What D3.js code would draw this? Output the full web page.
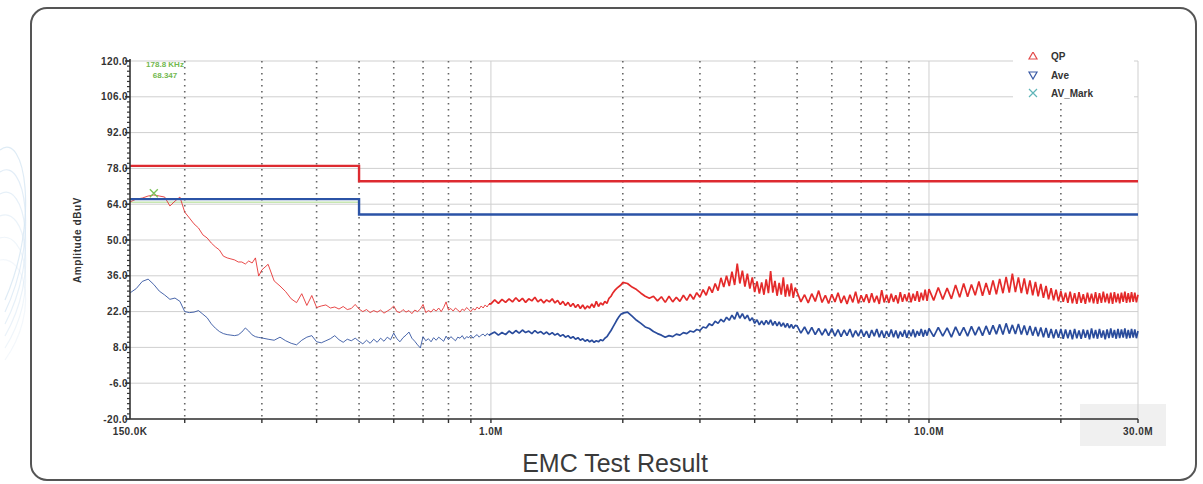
<!DOCTYPE html>
<html lang="en">
<head>
<meta charset="UTF-8">
<title>EMC Test Result</title>
<script src="https://cdn.jsdelivr.net/npm/d3@7"></script>
<style>
    body { margin: 0; background: #fff; }
    svg text { font-family: "Liberation Sans", Arial, sans-serif; }
</style>
</head>
<body>
<div id="fig"></div>
<script>
    // receiver sweep plan: [start MHz, stop MHz, step MHz]
    const sweepSteps = [[0.15, 0.30, 0.005], [0.31, 0.99, 0.01], [1.0, 1.98, 0.02],
                        [2.0, 4.95, 0.05], [5.0, 9.9, 0.1], [10.0, 30.0, 0.25]]

    // QP trace, dBuV, one array per sweep band
    const qp150k = [64.9,66.0,66.4,67.2,67.6,67.2,66.8,63.3,65.2,66.8,60.9,58.6,56.3,54.7,52.0,50.8,48.8,47.3,46.1,43.7,
        43.0,42.6,42.2,41.4,41.4,40.6,41.8,41.0,43.0,35.9,38.3]
    const qp310k = [40.5,34.0,32.0,29.8,27.0,25.5,29.0,24.4,28.3,23.6,24.2,24.6,23.4,23.8,23.0,24.0,22.8,23.2,24.8,23.0,
        22.0,22.8,21.6,22.4,21.8,22.6,21.4,22.2,23.0,24.2, 22.0,21.6,22.8,21.8,22.4,21.2,22.6,22.0,23.0,24.8,
        21.6,22.4,21.8,23.0,22.2,23.4,22.0,23.6,25.8,22.6, 23.2,22.2,23.4,22.6,21.8,23.0,22.4,23.6,22.8,22.0,
        23.2,22.6,23.8,23.0,24.2,23.4,24.6,23.8,25.0]
    const qp1M = [25.0,26.6,25.2,26.8,25.6,27.0,25.8,27.4,26.0,27.2, 25.6,27.0,26.2,27.6,25.8,26.8,25.4,26.6,25.8,27.0,
        25.4,26.4,24.8,26.0,24.4,25.6,24.0,25.2,23.6,24.8, 23.2,24.6,23.0,24.2,23.4,25.0,23.6,26.0,24.0,25.4,
        24.6,26.0,25.2,27.2,28.0,29.4,30.4,31.2,31.8,32.4]
    const qp2M = [33.4,33.0,31.6,30.6,29.2,28.0,27.2,28.0,26.2,27.8, 25.6,28.0,25.8,27.6,26.0,28.4,26.4,28.8,26.8,29.4,
        27.6,30.6,28.4,31.8,29.4,33.0,30.2,35.2,31.6,36.0, 32.0,37.6,32.4,40.8,33.0,38.0,31.8,36.8,31.0,35.4,
        29.6,33.8,29.0,33.4,28.6,34.6,29.2,37.8,29.4,34.0, 28.2,33.2,28.6,35.4,27.8,32.6,28.0,33.0,27.4,31.4]
    const qp5M = [29.6,25.8,28.6,25.4,29.0,26.0,30.2,25.6,28.4,25.2, 28.8,25.8,29.4,25.4,28.2,25.0,28.6,25.6,29.8,25.2,
        28.4,25.8,28.8,25.4,29.2,25.6,28.2,25.0,30.4,25.6, 28.6,25.4,29.0,25.8,28.4,25.2,29.6,25.8,28.8,26.0,
        29.4,25.6,29.0,26.2,30.0,25.8,29.4,26.4,30.6,26.2]
    const qp10M = [30.8,26.4,31.4,26.8,31.2,27.0,32.4,27.6,33.0,27.8, 32.6,28.4,33.8,28.2,33.2,28.6,34.2,28.8,34.8,29.2,
        35.6,29.4,36.8,29.6,35.4,29.2,35.0,28.8,34.2,28.4, 33.6,28.0,32.8,27.4,32.0,26.8,31.2,26.4,30.6,26.0,
        30.0,25.8,29.4,25.4,29.8,25.2,29.2,25.0,29.6,25.4, 28.8,25.0,29.4,25.6,29.0,25.2,29.6,25.0,29.2,25.4,
        29.8,25.6,29.0,25.2,29.4,25.0,29.6,25.6,29.0,25.2, 29.4,25.8,29.8,25.4,29.2,25.6,29.6,25.8,29.4,25.6, 28.6]

    // Average trace, dBuV
    const av150k = [29.3,31.0,33.8,34.7,32.6,30.0,28.5,26.8,27.3,26.0,22.0,21.6,21.8,22.4,21.0,19.6,17.2,15.5,14.2,13.4,
        13.0,12.8,12.6,12.9,14.0,15.6,14.4,12.9,12.2,11.9,11.7]
    const av310k = [11.2,10.8,12.0,10.6,9.6,9.0,10.8,12.0,12.6,10.2,9.8,10.6,11.4,12.6,11.0,10.0,11.2,10.6,11.6,10.4,
        9.4,10.8,9.6,11.2,10.0,11.6,10.4,12.0,11.0,13.6, 11.4,10.2,11.8,12.8,14.0,11.6,10.4,9.0,7.8,12.2,
        10.6,11.4,10.2,11.8,10.8,12.0,11.2,10.4,12.4,11.0, 12.2,11.4,10.6,12.0,11.6,12.6,11.2,12.2,11.8,12.8,
        11.6,12.4,13.0,12.0,12.8,13.2,12.4,13.4,12.8]
    const av1M = [13.2,14.0,12.8,13.8,13.0,14.4,13.4,14.6,13.6,14.8, 13.8,14.4,13.4,14.6,13.6,14.2,13.2,14.0,13.0,13.8,
        12.8,13.4,12.4,13.0,12.0,12.6,11.6,12.2,11.2,11.8, 10.8,11.4,10.4,11.0,10.2,10.8,10.0,10.6,10.2,11.0,
        10.6,11.6,12.2,13.4,14.6,16.0,17.4,18.8,20.0,21.0]
    const av2M = [21.4,21.8,20.2,18.6,17.4,16.0,15.4,14.2,13.4,12.8, 12.0,12.6,12.2,13.2,12.8,13.8,13.4,14.4,14.0,15.0,
        14.6,16.0,15.6,17.2,16.6,18.2,17.4,19.0,18.0,19.8, 18.6,20.6,19.0,21.8,19.4,21.2,19.2,20.6,18.4,19.6,
        17.4,18.8,16.8,18.4,16.8,18.6,17.0,18.8,16.6,18.2, 16.4,18.0,16.2,17.6,15.8,17.4,15.6,17.0,15.4,16.6]
    const av5M = [16.4,13.6,16.0,13.2,15.8,13.0,15.4,12.8,15.2,12.6, 15.4,12.4,15.0,12.2,14.8,12.6,15.2,12.0,14.6,12.4,
        15.0,12.2,14.4,11.8,14.8,12.4,15.2,12.0,14.6,11.8, 14.4,12.2,15.0,12.0,14.6,11.6,14.2,12.2,14.8,11.8,
        14.6,12.4,15.0,12.0,14.4,12.6,15.2,12.2,14.8,12.6]
    const av10M = [15.4,12.2,15.8,12.4,15.6,12.0,16.0,12.6,15.8,12.4, 16.2,12.8,16.0,12.6,16.4,13.0,16.6,13.2,17.0,13.0,
        17.4,13.4,16.8,13.2,17.2,13.0,16.6,12.8,16.4,12.6, 16.0,12.4,15.8,12.0,15.6,11.8,15.2,11.6,15.0,11.8,
        15.2,11.4,15.0,11.6,14.8,11.2,15.2,11.6,14.6,11.4, 15.0,11.8,14.8,11.2,15.4,11.6,14.8,11.4,15.2,11.8,
        14.6,11.2,15.0,11.6,15.4,11.8,14.8,11.4,15.2,11.6, 15.0,11.8,15.4,11.4,14.8,11.6,15.2,11.8,15.0,11.6, 14.4]

    // class A limits [MHz, dBuV]
    const qpLimit = [[0.15, 79], [0.5, 79], [0.5, 73], [30, 73]]
    const avLimit = [[0.15, 66], [0.5, 66], [0.5, 60], [30, 60]]
    const markLine = [[0.15, 64.8], [0.5, 64.8]]
    const marker = {f: 0.17, v: 68.3, label: ["178.8 KHz", "68.347"]}

    const yTicks = [-20, -6, 8, 22, 36, 50, 64, 78, 92, 106, 120]
    const dottedGrid = [0.2, 0.3, 0.4, 0.5, 0.6, 0.7, 0.8, 0.9, 2, 3, 4, 5, 6, 7, 8, 9, 20]
    const solidGrid = [1, 10, 30]
    const xLabelVals = [0.15, 1, 10, 30]
    const xLabels = ["150.0K", "1.0M", "10.0M", "30.0M"]
    const legendNames = ["QP", "Ave", "AV_Mark"]

    function buildTrace(bands) {
        let pts = []
        sweepSteps.forEach((s, b) => {
            bands[b].forEach((v, i) => pts.push([+(s[0] + i * s[2]).toFixed(3), v]))
        })
        return pts
    }
    const qpTrace = buildTrace([qp150k, qp310k, qp1M, qp2M, qp5M, qp10M])
    const avTrace = buildTrace([av150k, av310k, av1M, av2M, av5M, av10M])

    const W = 1203, H = 484
    const plot = {left: 130, right: 1138, top: 61, bottom: 419}

    let svg = d3.select("#fig").append("svg")
        .attr("width", W).attr("height", H)

    // faint background swirls outside the frame
    const deco = svg.append("g").attr("fill", "none").attr("stroke", "#d6e6f3").attr("stroke-width", 1.2)
    d3.range(6).forEach(i => {
        deco.append("path").attr("d", `M0,${150 + i * 22} C25,${130 + i * 25} 40,${220 + i * 18} 5,${300 + i * 12}`)
            .attr("opacity", 0.8 - i * 0.1)
    })

    svg.append("rect")
        .attr("x", 31).attr("y", 8).attr("width", 1165).attr("height", 472)
        .attr("rx", 16).attr("fill", "#fff").attr("stroke", "#555").attr("stroke-width", 2)

    const x = d3.scaleLog().domain([0.15, 30]).range([plot.left, plot.right])
    const y = d3.scaleLinear().domain([-20, 120]).range([plot.bottom, plot.top])

    // grey box behind the last label
    svg.append("rect").attr("x", 1080).attr("y", 404).attr("width", 86).attr("height", 42)
        .attr("fill", "#f0f0f0")

    // horizontal grid
    svg.append("g").selectAll("line").data(yTicks).enter().append("line")
        .attr("x1", plot.left).attr("x2", plot.right)
        .attr("y1", d => y(d)).attr("y2", d => y(d))
        .attr("stroke", "#cfcfcf").attr("stroke-width", 1)

    // legend background cuts grid lines
    svg.append("rect").attr("x", 1013).attr("y", 50).attr("width", 121).attr("height", 52).attr("fill", "#fff")

    svg.append("g").selectAll("line").data(solidGrid).enter().append("line")
        .attr("x1", d => x(d)).attr("x2", d => x(d))
        .attr("y1", plot.top).attr("y2", plot.bottom)
        .attr("stroke", "#cfcfcf").attr("stroke-width", 1)

    svg.append("g").selectAll("line").data(dottedGrid).enter().append("line")
        .attr("x1", d => x(d)).attr("x2", d => x(d))
        .attr("y1", d => d === 20 ? 103 : plot.top).attr("y2", plot.bottom)
        .attr("stroke", "#666").attr("stroke-width", 1.6).attr("stroke-dasharray", "1.6,4.4")

    const line = d3.line().x(d => x(d[0])).y(d => y(d[1]))

    svg.append("path").datum(markLine).attr("d", line)
        .attr("fill", "none").attr("stroke", "#a8d88a").attr("stroke-width", 1)

    // the low band is drawn thin, the dense sweep above 1 MHz heavier
    function drawTrace(pts, color) {
        svg.append("path").datum(pts.filter(d => d[0] <= 1)).attr("d", line)
            .attr("fill", "none").attr("stroke", color).attr("stroke-width", 1).attr("opacity", 0.85)
        svg.append("path").datum(pts.filter(d => d[0] >= 0.99)).attr("d", line)
            .attr("fill", "none").attr("stroke", color).attr("stroke-width", 1.7)
            .attr("stroke-linejoin", "bevel")
    }
    drawTrace(avTrace, "#2a4c9c")
    drawTrace(qpTrace, "#e42a2a")

    svg.append("path").datum(qpLimit).attr("d", line)
        .attr("fill", "none").attr("stroke", "#dd2a30").attr("stroke-width", 2.4)
    svg.append("path").datum(avLimit).attr("d", line)
        .attr("fill", "none").attr("stroke", "#2b53a6").attr("stroke-width", 2.4)

    // marker
    const mx = x(marker.f), my = y(marker.v)
    svg.append("path").attr("d", `M${mx - 4},${my - 4}L${mx + 4},${my + 4}M${mx - 4},${my + 4}L${mx + 4},${my - 4}`)
        .attr("stroke", "#7cc257").attr("stroke-width", 1.3)
    marker.label.forEach((t, i) => {
        svg.append("text").attr("x", 165).attr("y", 67 + i * 11).attr("text-anchor", "middle")
            .attr("font-size", 8).attr("font-weight", "bold").attr("fill", "#72b850").text(t)
    })

    // axes
    const yAxis = svg.append("g")
    yAxis.selectAll(".minor").data(d3.range(-20, 121, 2)).enter().append("line")
        .attr("x1", plot.left - 3).attr("x2", plot.left).attr("y1", d => y(d)).attr("y2", d => y(d))
        .attr("stroke", "#333").attr("stroke-width", 1.2)
    yAxis.selectAll(".major").data(yTicks).enter().append("line")
        .attr("x1", plot.left - 5).attr("x2", plot.left).attr("y1", d => y(d)).attr("y2", d => y(d))
        .attr("stroke", "#333").attr("stroke-width", 1.4)
    yAxis.selectAll("text").data(yTicks).enter().append("text")
        .attr("x", plot.left - 2).attr("y", d => y(d) + 3.5).attr("text-anchor", "end")
        .attr("font-size", 10).attr("font-weight", "bold").attr("letter-spacing", 0.4).attr("fill", "#333")
        .text(d => d.toFixed(1))
    yAxis.append("line").attr("x1", plot.left).attr("x2", plot.left)
        .attr("y1", plot.top - 2).attr("y2", plot.bottom).attr("stroke", "#333").attr("stroke-width", 1.6)

    const xAxis = svg.append("g")
    xAxis.selectAll("line.t").data(dottedGrid.concat(solidGrid)).enter().append("line")
        .attr("x1", d => x(d)).attr("x2", d => x(d)).attr("y1", plot.bottom).attr("y2", plot.bottom + 4)
        .attr("stroke", "#333").attr("stroke-width", 1.4)
    xAxis.append("line").attr("x1", plot.left).attr("x2", plot.right)
        .attr("y1", plot.bottom).attr("y2", plot.bottom).attr("stroke", "#333").attr("stroke-width", 1.6)
    xAxis.selectAll("text").data(xLabelVals).enter().append("text")
        .attr("x", d => x(d)).attr("y", plot.bottom + 16).attr("text-anchor", "middle")
        .attr("font-size", 10).attr("font-weight", "bold").attr("letter-spacing", 0.4).attr("fill", "#333")
        .text((d, i) => xLabels[i])

    svg.append("text").attr("transform", `translate(81,240) rotate(-90)`).attr("text-anchor", "middle")
        .attr("font-size", 10).attr("font-weight", "bold").attr("letter-spacing", 0.6).attr("fill", "#333")
        .text("Amplitude dBuV")

    // legend
    svg.append("clipPath").attr("id", "legClip").append("rect")
        .attr("x", 1000).attr("y", 52).attr("width", 150).attr("height", 60)
    const leg = svg.append("g").attr("clip-path", "url(#legClip)")
    const ly = [56, 75, 93]
    leg.append("path").attr("d", `M1033,${ly[0] - 4}L1037,${ly[0] + 3}L1029,${ly[0] + 3}Z`)
        .attr("fill", "none").attr("stroke", "#e24a4a").attr("stroke-width", 1.2)
    leg.append("path").attr("d", `M1029,${ly[1] - 3}L1037,${ly[1] - 3}L1033,${ly[1] + 4}Z`)
        .attr("fill", "none").attr("stroke", "#3b5ba6").attr("stroke-width", 1.2)
    leg.append("path").attr("d", `M1029,${ly[2] - 4}L1037,${ly[2] + 4}M1029,${ly[2] + 4}L1037,${ly[2] - 4}`)
        .attr("stroke", "#5fb5b8").attr("stroke-width", 1.2)
    leg.selectAll("text").data(legendNames).enter().append("text")
        .attr("x", 1051).attr("y", (d, i) => ly[i] + 4)
        .attr("font-size", 10).attr("font-weight", "bold").attr("fill", "#333").text(d => d)

    svg.append("text").attr("x", 615).attr("y", 472).attr("text-anchor", "middle")
        .attr("font-family", "Roboto, 'Open Sans', sans-serif").attr("font-size", 25)
        .attr("fill", "#3a3a3a").text("EMC Test Result")
</script>
</body>
</html>
